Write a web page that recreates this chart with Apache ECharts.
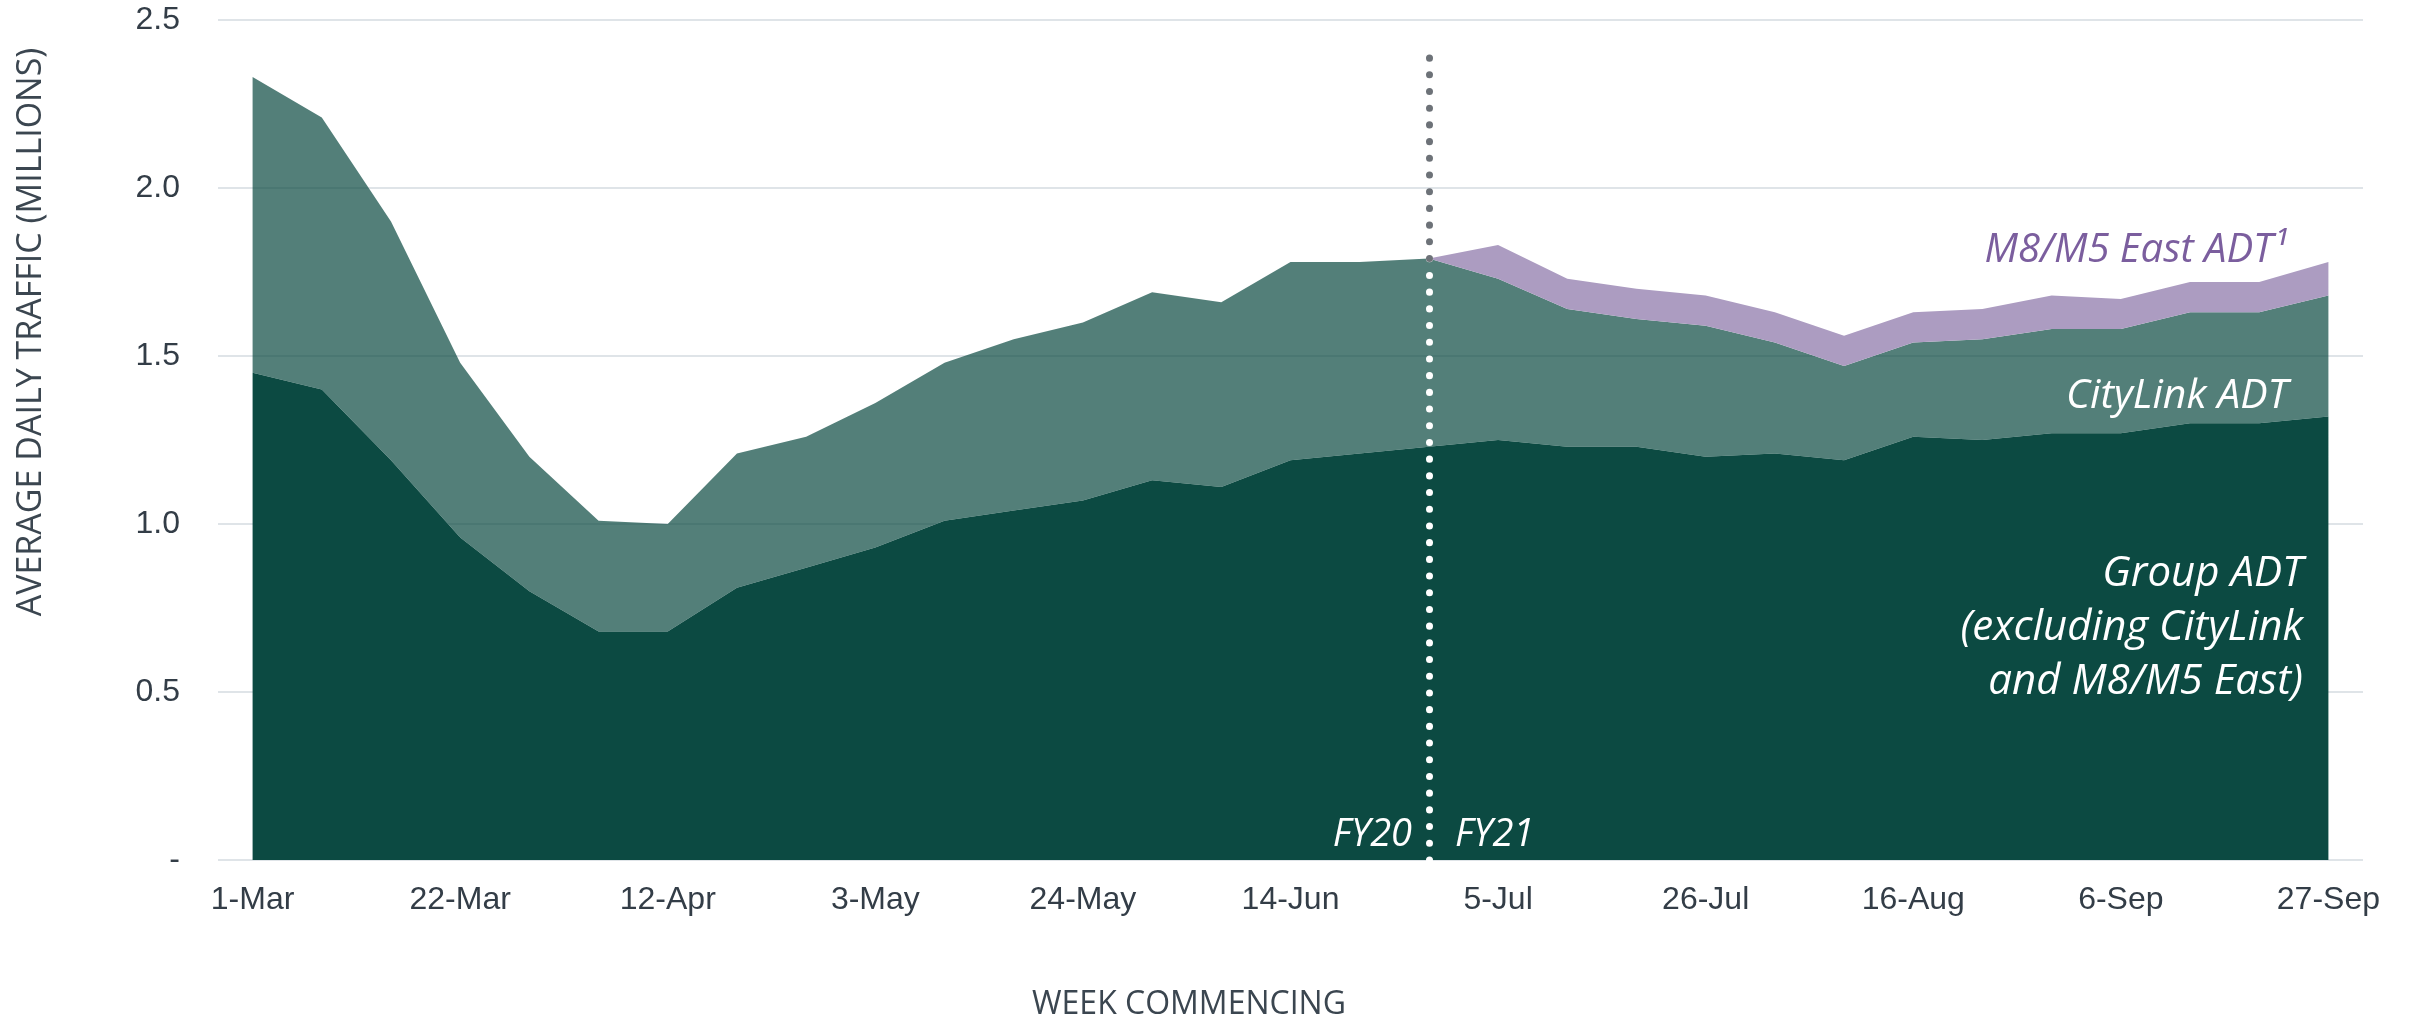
<!DOCTYPE html>
<html>
<head>
<meta charset="utf-8">
<title>Average daily traffic</title>
<script src="https://cdn.jsdelivr.net/npm/echarts@6/dist/echarts.min.js"></script>
<style>
  html, body { margin: 0; padding: 0; background: #fff; }
  #chart { width: 2422px; height: 1025px; }
</style>
</head>
<body>
<div id="chart"></div>
<script>
// week commencing (2020)
const weeks = ['1-Mar', '8-Mar', '15-Mar', '22-Mar', '29-Mar', '5-Apr', '12-Apr', '19-Apr', '26-Apr',
  '3-May', '10-May', '17-May', '24-May', '31-May', '7-Jun', '14-Jun', '21-Jun', '28-Jun',
  '5-Jul', '12-Jul', '19-Jul', '26-Jul', '2-Aug', '9-Aug', '16-Aug', '23-Aug', '30-Aug',
  '6-Sep', '13-Sep', '20-Sep', '27-Sep'];

// millions, stacked bottom -> top
const groupAdt = [1.45, 1.40, 1.19, 0.96, 0.80, 0.68, 0.68, 0.81, 0.87, 0.93, 1.01, 1.04, 1.07, 1.13,
  1.11, 1.19, 1.21, 1.23, 1.25, 1.23, 1.23, 1.20, 1.21, 1.19, 1.26, 1.25, 1.27, 1.27, 1.30, 1.30, 1.32];
const cityLinkAdt = [0.88, 0.81, 0.71, 0.52, 0.40, 0.33, 0.32, 0.40, 0.39, 0.43, 0.47, 0.51, 0.53, 0.56,
  0.55, 0.59, 0.57, 0.56, 0.48, 0.41, 0.38, 0.39, 0.33, 0.28, 0.28, 0.30, 0.31, 0.31, 0.33, 0.33, 0.36];
const m8M5EastAdt = ['-', '-', '-', '-', '-', '-', '-', '-', '-', '-', '-', '-', '-', '-', '-', '-', '-',
  0, 0.10, 0.09, 0.09, 0.09, 0.09, 0.09, 0.09, 0.09, 0.10, 0.09, 0.09, 0.09, 0.10];

const fyWeek = '28-Jun';   // FY20 / FY21 split
const fyIdx = weeks.indexOf(fyWeek);
const fySplit = groupAdt[fyIdx] + cityLinkAdt[fyIdx];
const fyLineTop = 2.40;

const dark = '#0c4a42';
const tickFont = '"Liberation Sans", Arial, sans-serif';
const noteFont = '"Open Sans", sans-serif';

const chart = echarts.init(document.getElementById('chart'));

const dotted = (color) => ({
  color: color,
  width: 7,
  type: [0.1, 16.6],
  cap: 'round'
});

// annotation text on top of the areas
const note = (x, y, text, fill, size, align, extra) => ({
  type: 'text', x: x, y: y, z: 100,
  style: Object.assign({
    text: text, fill: fill, font: 'italic ' + size + 'px ' + noteFont,
    textAlign: align, align: align, textVerticalAlign: 'middle', verticalAlign: 'middle'
  }, extra || {})
});

chart.setOption({
  animation: false,
  grid: { left: 218, right: 59, top: 20, bottom: 165 },
  xAxis: {
    type: 'category',
    data: weeks,
    boundaryGap: true,
    axisLine: { show: false },
    axisTick: { show: false },
    axisLabel: {
      interval: 2,
      margin: 24,
      color: '#333d47',
      fontSize: 32,
      fontFamily: tickFont
    }
  },
  yAxis: {
    type: 'value',
    min: 0,
    max: 2.5,
    interval: 0.5,
    axisLine: { show: false },
    axisTick: { show: false },
    axisLabel: {
      margin: 38,
      color: '#333d47',
      fontSize: 32,
      fontFamily: tickFont,
      formatter: (v) => (v === 0 ? '-' : v.toFixed(1))
    },
    splitLine: { lineStyle: { color: '#dfe4e8', width: 2 } }
  },
  series: [
    {
      name: 'Group ADT',
      type: 'line',
      stack: 'adt',
      data: groupAdt,
      showSymbol: false,
      lineStyle: { width: 0 },
      areaStyle: { color: dark, opacity: 1 }
    },
    {
      name: 'CityLink ADT',
      type: 'line',
      stack: 'adt',
      data: cityLinkAdt,
      showSymbol: false,
      lineStyle: { width: 0 },
      areaStyle: { color: dark, opacity: 0.71 }
    },
    {
      name: 'M8/M5 East ADT',
      type: 'line',
      stack: 'adt',
      data: m8M5EastAdt,
      showSymbol: false,
      lineStyle: { width: 0 },
      areaStyle: { color: '#ac9cc1', opacity: 1 },
      markLine: {
        silent: true,
        symbol: 'none',
        label: { show: false },
        z: 10,
        data: [
          [{ coord: [fyWeek, 0], lineStyle: dotted('#ffffff') }, { coord: [fyWeek, fySplit] }],
          [{ coord: [fyWeek, fySplit], lineStyle: dotted('#6d7278') }, { coord: [fyWeek, fyLineTop] }]
        ]
      }
    }
  ],
  graphic: [
    {
      type: 'text', x: 31, y: 332, rotation: Math.PI / 2,
      style: { text: 'AVERAGE DAILY TRAFFIC (MILLIONS)', fill: '#3b4650', font: '34px ' + noteFont,
        textAlign: 'center', textVerticalAlign: 'middle', align: 'center', verticalAlign: 'middle' }
    },
    {
      type: 'text', x: 1189, y: 1005,
      style: { text: 'WEEK COMMENCING', fill: '#3b4650', font: '32px ' + noteFont,
        textAlign: 'center', textVerticalAlign: 'middle', align: 'center', verticalAlign: 'middle' }
    },
    note(2287, 251, 'M8/M5 East ADT\u00b9', '#7b5e9e', 40, 'right'),
    note(2288, 396, 'CityLink ADT', '#ffffff', 41, 'right'),
    note(2303, 628, 'Group ADT\n(excluding CityLink\nand M8/M5 East)', '#ffffff', 42, 'right', { lineHeight: 54 }),
    note(1412, 835, 'FY20', '#ffffff', 38, 'right'),
    note(1455, 835, 'FY21', '#ffffff', 38, 'left')
  ]
});

window.addEventListener('resize', function () {
  chart.resize();
});
</script>
</body>
</html>
